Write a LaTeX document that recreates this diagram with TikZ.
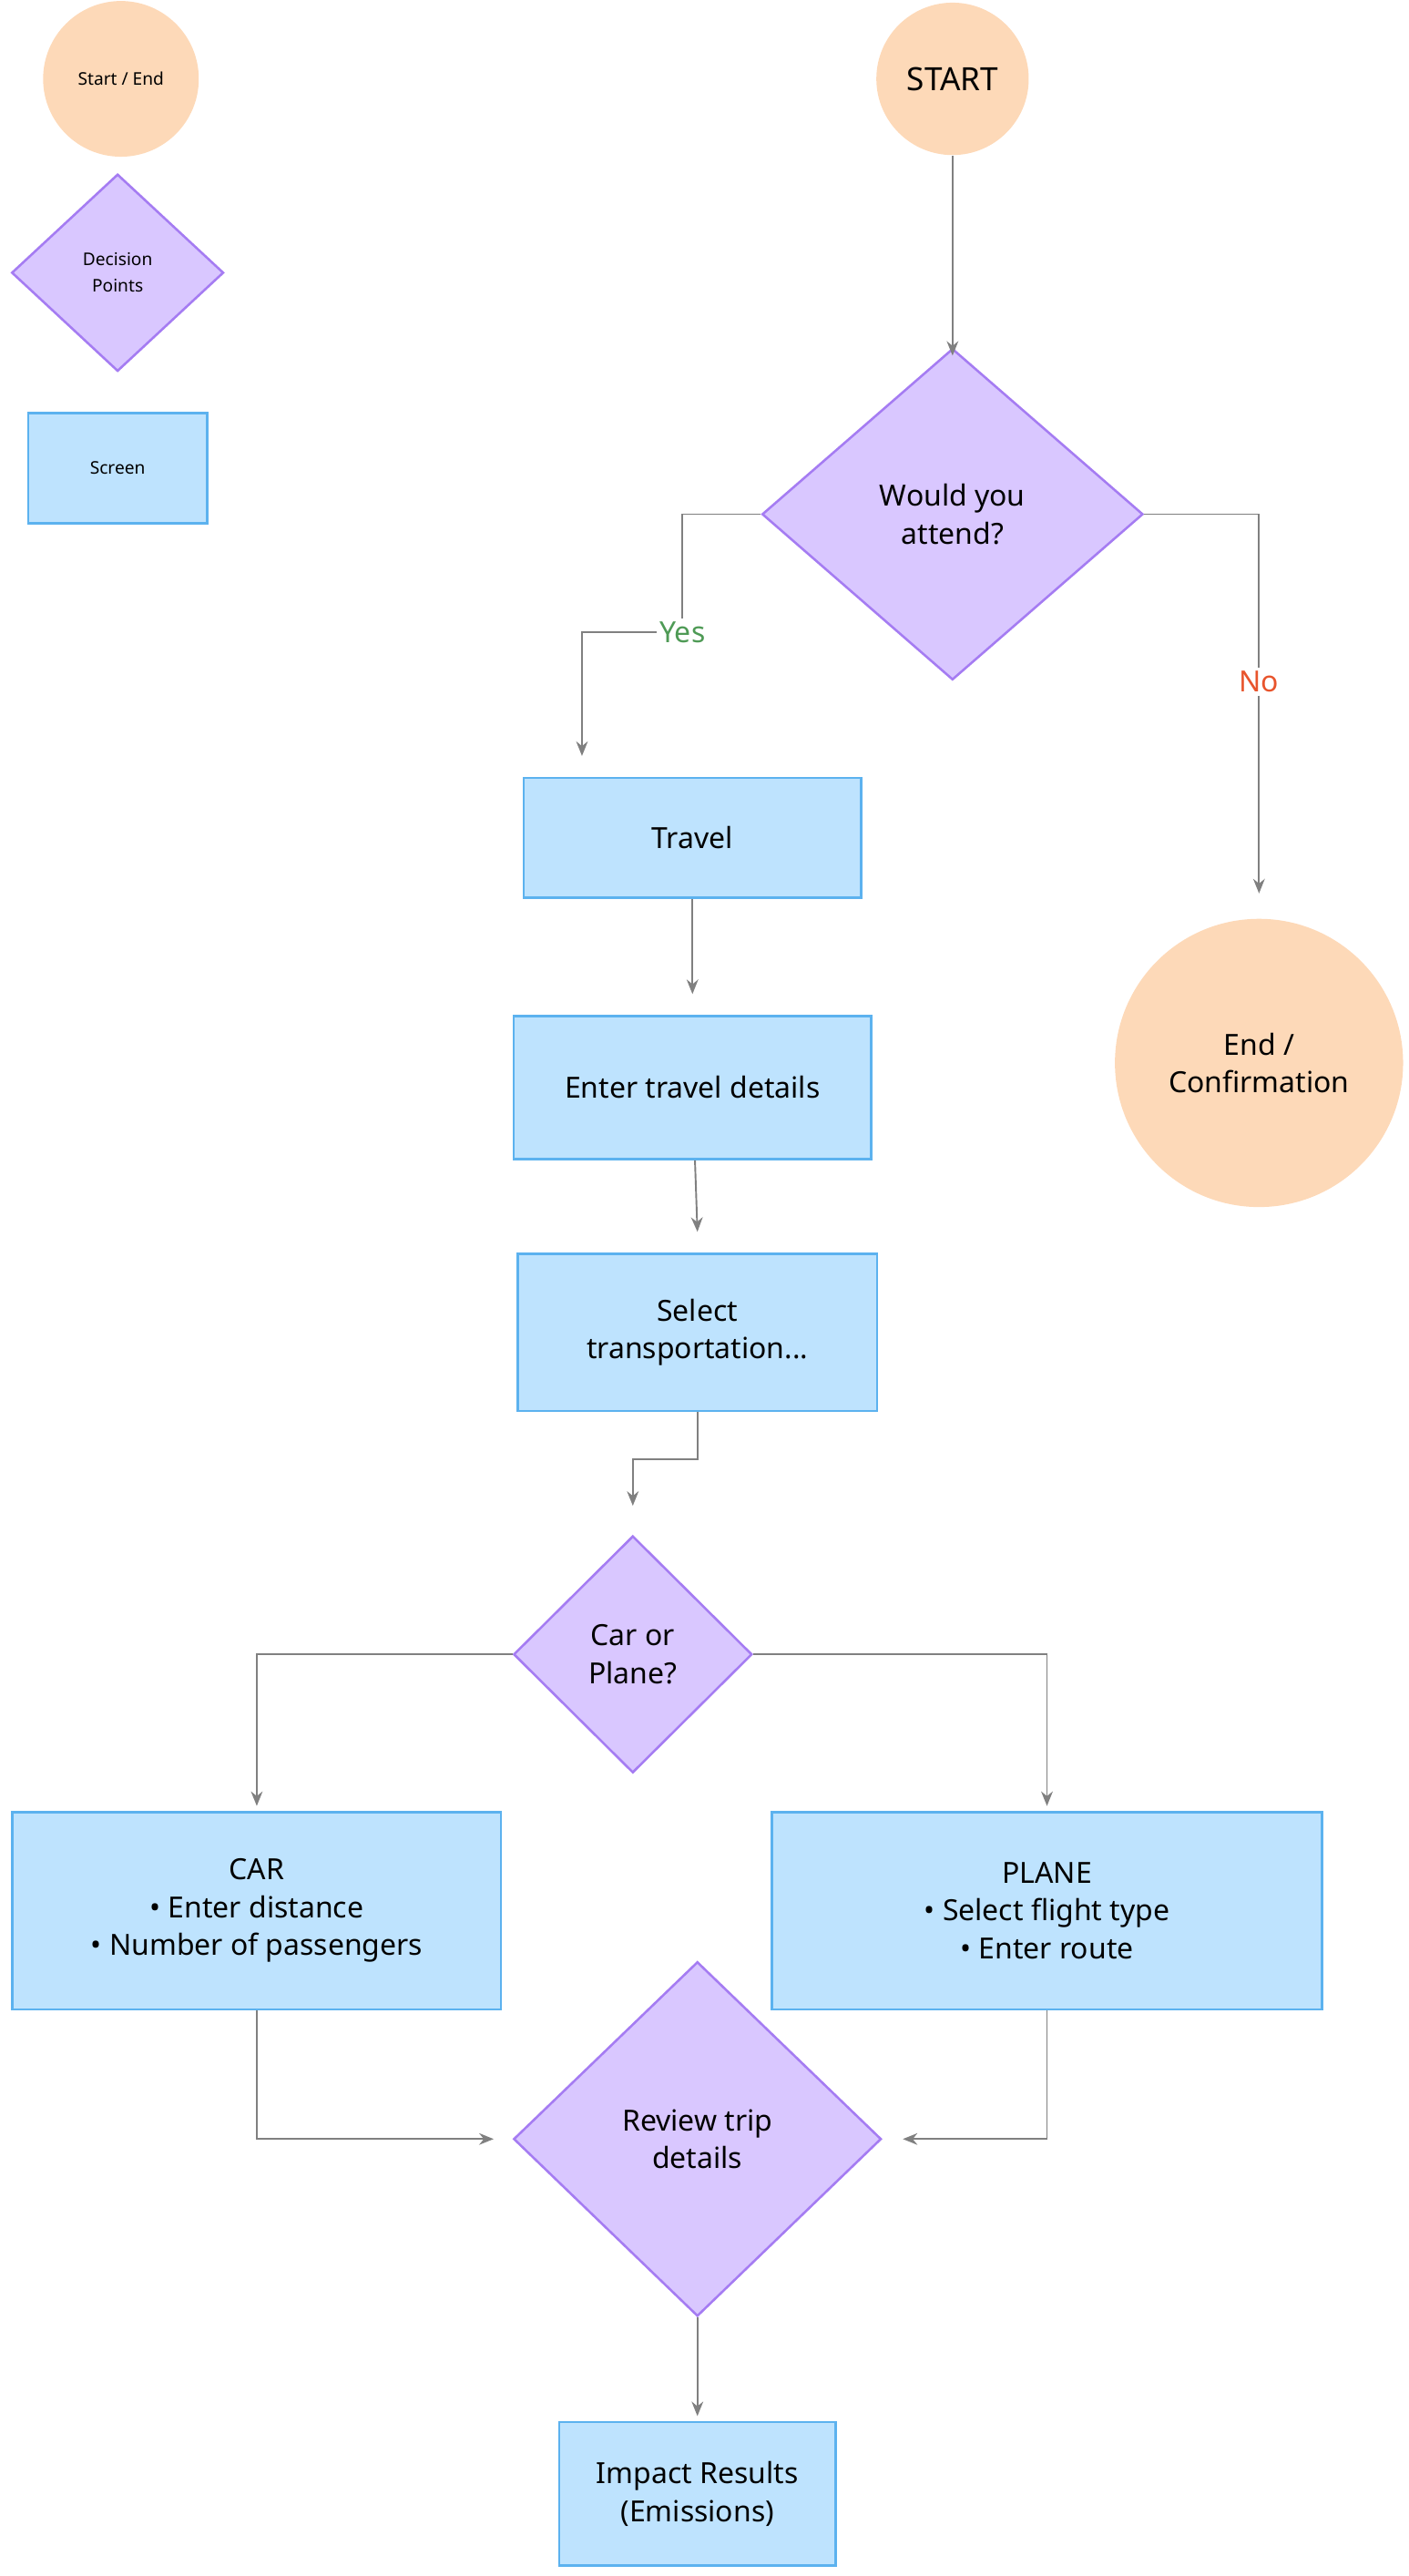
\documentclass[tikz,border=0pt]{standalone}
\usepackage{fontspec}
\setmainfont{Noto Sans}
\usetikzlibrary{shapes.geometric,arrows.meta,positioning,calc}
\definecolor{peach}{HTML}{FDD9B8}
\definecolor{lilac}{HTML}{D9C7FF}
\definecolor{lilacline}{HTML}{A57CF2}
\definecolor{skyfill}{HTML}{BEE3FE}
\definecolor{skyline}{HTML}{5CB2EF}
\definecolor{yesgreen}{HTML}{4E9A55}
\definecolor{nored}{HTML}{E8542C}
\begin{document}
\begin{tikzpicture}[x=0.02cm,y=-0.01984cm,font=\fontsize{10}{13}\selectfont,
  >={Stealth[length=5pt,width=4pt]}]
   \tikzstyle{term} = [circle, fill=peach, inner sep=0pt, align=center]
   \tikzstyle{decision} = [diamond, fill=lilac, draw=lilacline, line width=0.8pt, inner sep=0pt, align=center]
   \tikzstyle{screen} = [rectangle, fill=skyfill, draw=skyline, line width=0.8pt, inner sep=0pt, align=center]
   \tikzstyle{flow} = [draw=gray, line width=0.6pt]
\useasboundingbox (0,0) rectangle (850,1568);
%Legend
\node at (73,48) [term, minimum size=1.88cm, font=\fontsize{6}{8}\selectfont] (legterm) {Start / End};
\node at (71,166) [decision, minimum width=2.56cm, minimum height=2.38cm, font=\fontsize{6}{9}\selectfont] (legdec) {Decision\\Points};
\node at (71,285) [screen, minimum width=2.16cm, minimum height=1.33cm, font=\fontsize{6}{8}\selectfont] (legscr) {Screen};
%Flow
\node at (575,48) [term, minimum size=1.84cm, font=\fontsize{11}{13}\selectfont] (start) {START};
\node at (575,313) [decision, minimum width=4.6cm, minimum height=4.0cm] (attend) {Would you\\attend?};
\node at (412,385) [text=yesgreen, inner sep=1pt] (yes) {Yes};
\node at (760,415) [text=nored, inner sep=1pt] (no) {No};
\node at (760,647) [term, minimum size=3.48cm] (end) {End /\\Confirmation};
\node at (418,510) [screen, minimum width=4.08cm, minimum height=1.45cm] (travel) {Travel};
\node at (418,662) [screen, minimum width=4.32cm, minimum height=1.73cm] (details) {Enter travel details};
\node at (421,811) [screen, minimum width=4.34cm, minimum height=1.9cm] (select) {Select\\transportation...};
\node at (382,1007) [decision, minimum width=2.88cm, minimum height=2.86cm] (carplane) {Car or\\Plane?};
\node at (155,1163) [screen, minimum width=5.9cm, minimum height=2.38cm] (car) {CAR\\\textbullet\ Enter distance\\\textbullet\ Number of passengers};
\node at (632,1163) [screen, minimum width=6.64cm, minimum height=2.38cm] (plane) {PLANE\\\textbullet\ Select flight type\\\textbullet\ Enter route};
\node at (421,1302) [decision, minimum width=4.44cm, minimum height=4.28cm] (review) {Review trip\\details};
\node at (421,1518) [screen, minimum width=3.34cm, minimum height=1.73cm] (impact) {Impact Results\\(Emissions)};
\coordinate (splitsel) at (421,888);
\coordinate (carin) at (298,1302);
\coordinate (planein) at (545,1302);
\begin{scope}[flow]
\draw[->] (start) -- ([yshift=-0.1cm]attend.north);
\draw (attend.west) -| (yes.north);
\draw[->] (yes.west) -| ([xshift=0.72cm,yshift=0.25cm]travel.north west);
\draw (attend.east) -| (no.north);
\draw[->] (no.south) -- ([yshift=0.3cm]end.north);
\draw[->] (travel) -- ([yshift=0.25cm]details.north);
\draw[->] (details) -- ([yshift=0.25cm]select.north);
\draw[->] (select.south) -- (splitsel) -| ([yshift=0.35cm]carplane.north);
\draw[->] (carplane.west) -| ([yshift=0.06cm]car.north);
\draw[->] (carplane.east) -| ([yshift=0.06cm]plane.north);
\draw[->] (car.south) |- (carin);
\draw[->] (plane.south) |- (planein);
\draw[->] (review.south) -- ([yshift=0.06cm]impact.north);
\end{scope}
\end{tikzpicture}
\end{document}
